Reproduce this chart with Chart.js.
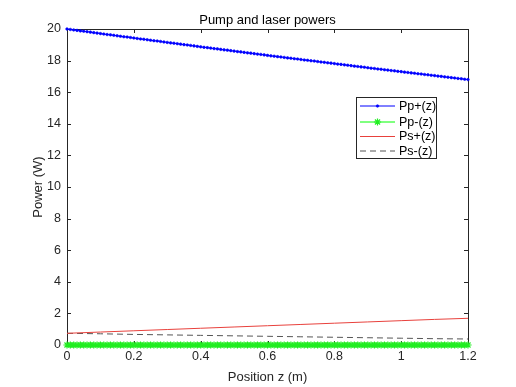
<!DOCTYPE html>
<html>
<head>
<meta charset="utf-8">
<script src="https://cdn.jsdelivr.net/npm/chart.js@4.4.1/dist/chart.umd.min.js"></script>
<style>
  html, body { margin: 0; padding: 0; background: #fff; }
  #wrap { width: 516px; height: 387px; }
</style>
</head>
<body>
<div id="wrap"><canvas id="myChart" width="516" height="387"></canvas></div>
<script>
// posisi z (m) untuk titik-titik pompa
var zFine = [
  0.00,0.01,0.02,0.03,0.04,0.05,0.06,0.07,0.08,0.09,
  0.10,0.11,0.12,0.13,0.14,0.15,0.16,0.17,0.18,0.19,
  0.20,0.21,0.22,0.23,0.24,0.25,0.26,0.27,0.28,0.29,
  0.30,0.31,0.32,0.33,0.34,0.35,0.36,0.37,0.38,0.39,
  0.40,0.41,0.42,0.43,0.44,0.45,0.46,0.47,0.48,0.49,
  0.50,0.51,0.52,0.53,0.54,0.55,0.56,0.57,0.58,0.59,
  0.60,0.61,0.62,0.63,0.64,0.65,0.66,0.67,0.68,0.69,
  0.70,0.71,0.72,0.73,0.74,0.75,0.76,0.77,0.78,0.79,
  0.80,0.81,0.82,0.83,0.84,0.85,0.86,0.87,0.88,0.89,
  0.90,0.91,0.92,0.93,0.94,0.95,0.96,0.97,0.98,0.99,
  1.00,1.01,1.02,1.03,1.04,1.05,1.06,1.07,1.08,1.09,
  1.10,1.11,1.12,1.13,1.14,1.15,1.16,1.17,1.18,1.19,
  1.20
];
// daya pompa maju Pp+(z)
var ppPlus = [
  20.00,19.97,19.94,19.91,19.88,19.86,19.83,19.80,19.77,19.74,
  19.71,19.68,19.65,19.63,19.60,19.57,19.54,19.51,19.49,19.46,
  19.43,19.40,19.37,19.35,19.32,19.29,19.26,19.24,19.21,19.18,
  19.15,19.12,19.10,19.07,19.04,19.01,18.99,18.96,18.93,18.90,
  18.87,18.84,18.82,18.79,18.76,18.74,18.71,18.68,18.66,18.63,
  18.60,18.57,18.55,18.52,18.49,18.47,18.44,18.41,18.39,18.36,
  18.33,18.30,18.28,18.25,18.23,18.20,18.17,18.15,18.12,18.10,
  18.07,18.04,18.02,17.99,17.97,17.94,17.91,17.89,17.86,17.84,
  17.81,17.78,17.76,17.73,17.71,17.68,17.65,17.63,17.60,17.58,
  17.55,17.52,17.50,17.47,17.45,17.42,17.40,17.37,17.35,17.32,
  17.30,17.27,17.25,17.22,17.20,17.17,17.15,17.12,17.10,17.07,
  17.05,17.02,17.00,16.97,16.95,16.92,16.90,16.87,16.85,16.82,
  16.80
];
// daya pompa mundur Pp-(z)
var ppMinus = [
  0,0,0,0,0,0,0,0,0,0, 0,0,0,0,0,0,0,0,0,0,
  0,0,0,0,0,0,0,0,0,0, 0,0,0,0,0,0,0,0,0,0,
  0,0,0,0,0,0,0,0,0,0, 0,0,0,0,0,0,0,0,0,0,
  0,0,0,0,0,0,0,0,0,0, 0,0,0,0,0,0,0,0,0,0,
  0,0,0,0,0,0,0,0,0,0, 0,0,0,0,0,0,0,0,0,0,
  0,0,0,0,0,0,0,0,0,0, 0,0,0,0,0,0,0,0,0,0,
  0
];
// daya laser (sinyal)
var zCoarse = [0,0.1,0.2,0.3,0.4,0.5,0.6,0.7,0.8,0.9,1.0,1.1,1.2];
var psPlus  = [0.74,0.82,0.90,0.98,1.06,1.14,1.22,1.30,1.38,1.46,1.54,1.62,1.69];
var psMinus = [0.74,0.71,0.67,0.64,0.61,0.58,0.55,0.52,0.49,0.46,0.43,0.40,0.38];

var xTicks = [0,0.2,0.4,0.6,0.8,1,1.2];
var yTicks = [0,2,4,6,8,10,12,14,16,18,20];
var legendLabels = ['Pp+(z)','Pp-(z)','Ps+(z)','Ps-(z)'];

function pairs(xs, ys) {
  return ys.map(function (v, i) { return { x: xs[i], y: v }; });
}

var axisColor = '#262626';
var fontFam = '"Liberation Sans", Arial, Helvetica, sans-serif';

// kotak sumbu, tick ke dalam, judul dan legenda ala MATLAB
var matlabBox = {
  id: 'matlabBox',
  beforeDatasetsDraw: function (chart) {
    var ctx = chart.ctx, a = chart.chartArea;
    var xs = chart.scales.x, ys = chart.scales.y;
    ctx.save();
    ctx.strokeStyle = axisColor;
    ctx.lineWidth = 1;
    ctx.strokeRect(Math.round(a.left) + 0.5, Math.round(a.top) + 0.5,
      Math.round(a.right - a.left), Math.round(a.bottom - a.top));
    ctx.beginPath();
    xTicks.forEach(function (t) {
      var px = Math.round(xs.getPixelForValue(t)) + 0.5;
      ctx.moveTo(px, a.bottom); ctx.lineTo(px, a.bottom - 4);
      ctx.moveTo(px, a.top); ctx.lineTo(px, a.top + 4);
    });
    yTicks.forEach(function (t) {
      var py = Math.round(ys.getPixelForValue(t)) + 0.5;
      ctx.moveTo(a.left, py); ctx.lineTo(a.left + 4, py);
      ctx.moveTo(a.right, py); ctx.lineTo(a.right - 4, py);
    });
    ctx.stroke();

    // label sumbu
    ctx.fillStyle = axisColor;
    ctx.font = '13px ' + fontFam;
    ctx.textAlign = 'center';
    ctx.textBaseline = 'middle';
    ctx.fillText('Position z (m)', (a.left + a.right) / 2, 377);
    ctx.save();
    ctx.translate(38, (a.top + a.bottom) / 2);
    ctx.rotate(-Math.PI / 2);
    ctx.fillText('Power (W)', 0, 0);
    ctx.restore();
    ctx.restore();
  },
  afterDraw: function (chart) {
    var ctx = chart.ctx, a = chart.chartArea;
    ctx.save();
    // judul
    ctx.fillStyle = '#000';
    ctx.font = '13px ' + fontFam;
    ctx.textAlign = 'center';
    ctx.textBaseline = 'middle';
    ctx.fillText('Pump and laser powers', (a.left + a.right) / 2, 20);

    // legenda
    var bx = 356.5, by = 97.5, bw = 80, bh = 61;
    ctx.fillStyle = '#fff';
    ctx.fillRect(bx, by, bw, bh);
    ctx.strokeStyle = axisColor;
    ctx.lineWidth = 1;
    ctx.strokeRect(bx, by, bw, bh);
    var rows = [106, 122, 136.5, 151];
    var x1 = 360, x2 = 395, xm = (x1 + x2) / 2;
    chart.data.datasets.forEach(function (ds, i) {
      var y = rows[i];
      ctx.save();
      ctx.strokeStyle = ds.borderColor;
      ctx.lineWidth = ds.borderWidth;
      ctx.setLineDash(ds.borderDash || []);
      ctx.beginPath();
      ctx.moveTo(x1, y); ctx.lineTo(x2, y);
      ctx.stroke();
      ctx.restore();
      if (ds.pointRadius > 0) {
        ctx.fillStyle = ds.pointBackgroundColor;
        ctx.strokeStyle = ds.pointBorderColor;
        ctx.lineWidth = ds.pointBorderWidth;
        Chart.helpers.drawPoint(ctx, {
          pointStyle: ds.pointStyle,
          radius: ds.pointRadius,
          borderWidth: ds.pointBorderWidth
        }, xm, y);
      }
      ctx.fillStyle = '#000';
      ctx.font = '12.5px ' + fontFam;
      ctx.textAlign = 'left';
      ctx.textBaseline = 'middle';
      ctx.fillText(legendLabels[i], 399, y + 0.5);
    });
    ctx.restore();
  }
};

var ctx = document.getElementById('myChart').getContext('2d');
var myChart = new Chart(ctx, {
  type: 'scatter',
  data: {
    datasets: [{
      label: legendLabels[0],
      data: pairs(zFine, ppPlus),
      showLine: true,
      borderColor: '#0000ff',
      borderWidth: 1,
      pointStyle: 'circle',
      pointRadius: 1.3,
      pointBackgroundColor: '#0000ff',
      pointBorderColor: '#0000ff',
      pointBorderWidth: 0.6,
      clip: false
    }, {
      label: legendLabels[1],
      data: pairs(zFine, ppMinus),
      showLine: true,
      borderColor: '#00ff00',
      borderWidth: 1,
      pointStyle: 'star',
      pointRadius: 3.6,
      pointBackgroundColor: '#00ff00',
      pointBorderColor: '#22ee22',
      pointBorderWidth: 1.2,
      clip: false
    }, {
      label: legendLabels[2],
      data: pairs(zCoarse, psPlus),
      showLine: true,
      borderColor: '#e8413c',
      borderWidth: 1,
      pointRadius: 0,
      clip: false
    }, {
      label: legendLabels[3],
      data: pairs(zCoarse, psMinus),
      showLine: true,
      borderColor: '#555555',
      borderWidth: 1,
      borderDash: [6, 4],
      pointRadius: 0,
      clip: false
    }]
  },
  options: {
    responsive: false,
    animation: false,
    events: [],
    layout: { padding: { left: 0, right: 48, top: 29, bottom: 0 } },
    plugins: {
      legend: { display: false },
      title: { display: false },
      tooltip: { enabled: false }
    },
    scales: {
      x: {
        type: 'linear',
        min: 0, max: 1.2,
        afterBuildTicks: function (s) { s.ticks = xTicks.map(function (v) { return { value: v }; }); },
        afterFit: function (s) { s.height = 42; },
        grid: { display: false, drawTicks: false },
        border: { display: false },
        ticks: {
          color: axisColor, padding: 4,
          font: { family: fontFam, size: 12.5 },
          maxRotation: 0,
          callback: function (v) { return String(Math.round(v * 10) / 10); }
        }
      },
      y: {
        type: 'linear',
        min: 0, max: 20,
        afterBuildTicks: function (s) { s.ticks = yTicks.map(function (v) { return { value: v }; }); },
        afterFit: function (s) { s.width = 67; },
        grid: { display: false, drawTicks: false },
        border: { display: false },
        ticks: {
          color: axisColor, padding: 6,
          font: { family: fontFam, size: 12.5 }
        }
      }
    }
  },
  plugins: [matlabBox]
});
</script>
</body>
</html>
